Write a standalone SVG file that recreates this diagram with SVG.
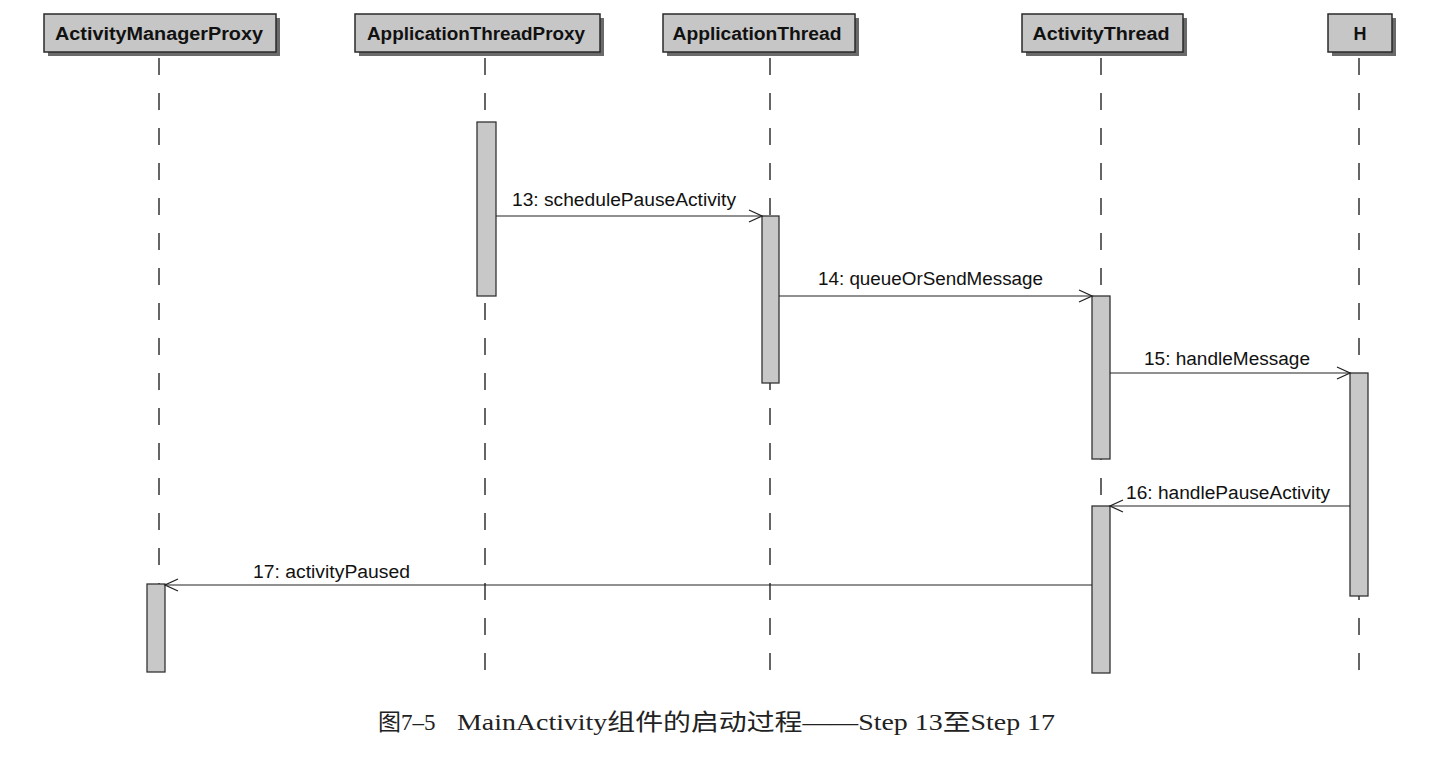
<svg xmlns="http://www.w3.org/2000/svg" width="1434" height="758" viewBox="0 0 1434 758">
<style>
.box{fill:#c6c6c6;stroke:#2a2a2a;stroke-width:1.5}
.shadow{fill:#6a6a6a}
.hdr{font-family:"Liberation Sans",Arial,sans-serif;font-weight:bold;font-size:18px;fill:#111;text-anchor:middle}
.life{stroke:#333;stroke-width:1.5;stroke-dasharray:17 18;fill:none}
.act{fill:#c8c8c8;stroke:#333;stroke-width:1.3}
.msg{stroke:#222;stroke-width:1.2;fill:none}
.lbl{font-family:"Liberation Sans",Arial,sans-serif;font-size:18px;fill:#111}
.cap{font-family:"Liberation Serif","Noto Sans CJK SC",serif;font-size:23px;fill:#222}
</style>
<defs>
<marker id="arr" markerWidth="16" markerHeight="14" refX="14" refY="7" orient="auto" markerUnits="userSpaceOnUse">
<path d="M1,1 L14,7 L1,13" fill="none" stroke="#222" stroke-width="1.3"/>
</marker>
</defs>
<rect width="1434" height="758" fill="#fff"/>
<g id="lifelines">
<line class="life" x1="159" y1="58" x2="159" y2="670"/>
<line class="life" x1="485" y1="58" x2="485" y2="670"/>
<line class="life" x1="770" y1="58" x2="770" y2="670"/>
<line class="life" x1="1101" y1="58" x2="1101" y2="670"/>
<line class="life" x1="1359" y1="58" x2="1359" y2="670"/>
</g>
<g id="n_amp">
<rect class="shadow" x="48" y="18" width="232" height="38"/>
<rect class="box" x="44" y="14" width="232" height="38"/>
<text class="hdr" x="159" y="40" textLength="208" lengthAdjust="spacingAndGlyphs">ActivityManagerProxy</text>
</g>
<g id="n_atp">
<rect class="shadow" x="359" y="18" width="245" height="38"/>
<rect class="box" x="355" y="14" width="245" height="38"/>
<text class="hdr" x="476" y="40" textLength="218" lengthAdjust="spacingAndGlyphs">ApplicationThreadProxy</text>
</g>
<g id="n_at">
<rect class="shadow" x="667" y="18" width="192" height="38"/>
<rect class="box" x="663" y="14" width="192" height="38"/>
<text class="hdr" x="757" y="40" textLength="169" lengthAdjust="spacingAndGlyphs">ApplicationThread</text>
</g>
<g id="n_activitythread">
<rect class="shadow" x="1026" y="18" width="161" height="38"/>
<rect class="box" x="1022" y="14" width="161" height="38"/>
<text class="hdr" x="1101" y="40" textLength="137" lengthAdjust="spacingAndGlyphs">ActivityThread</text>
</g>
<g id="n_h">
<rect class="shadow" x="1332" y="18" width="64" height="38"/>
<rect class="box" x="1328" y="14" width="64" height="38"/>
<text class="hdr" x="1360" y="40">H</text>
</g>
<g id="activations">
<rect class="act" x="477" y="122" width="19" height="174"/>
<rect class="act" x="762" y="216" width="17" height="167"/>
<rect class="act" x="1092" y="296" width="18" height="163"/>
<rect class="act" x="1350" y="373" width="18" height="223"/>
<rect class="act" x="1092" y="506" width="18" height="167"/>
<rect class="act" x="147" y="584" width="18" height="88"/>
</g>
<g id="connectors">
<line class="msg" x1="496" y1="216" x2="762" y2="216" marker-end="url(#arr)"/>
<line class="msg" x1="779" y1="296" x2="1092" y2="296" marker-end="url(#arr)"/>
<line class="msg" x1="1110" y1="373" x2="1350" y2="373" marker-end="url(#arr)"/>
<line class="msg" x1="1350" y1="506" x2="1110" y2="506" marker-end="url(#arr)"/>
<line class="msg" x1="1092" y1="585" x2="165" y2="585" marker-end="url(#arr)"/>
<text class="lbl" x="512" y="206" textLength="224" lengthAdjust="spacingAndGlyphs">13: schedulePauseActivity</text>
<text class="lbl" x="818" y="285" textLength="225" lengthAdjust="spacingAndGlyphs">14: queueOrSendMessage</text>
<text class="lbl" x="1144" y="365" textLength="166" lengthAdjust="spacingAndGlyphs">15: handleMessage</text>
<text class="lbl" x="1126" y="499" textLength="204" lengthAdjust="spacingAndGlyphs">16: handlePauseActivity</text>
<text class="lbl" x="253" y="578" textLength="157" lengthAdjust="spacingAndGlyphs">17: activityPaused</text>
</g>
<text class="cap" x="378" y="730">图7–5<tspan x="457" textLength="598" lengthAdjust="spacingAndGlyphs">MainActivity组件的启动过程——Step 13至Step 17</tspan></text>
</svg>
